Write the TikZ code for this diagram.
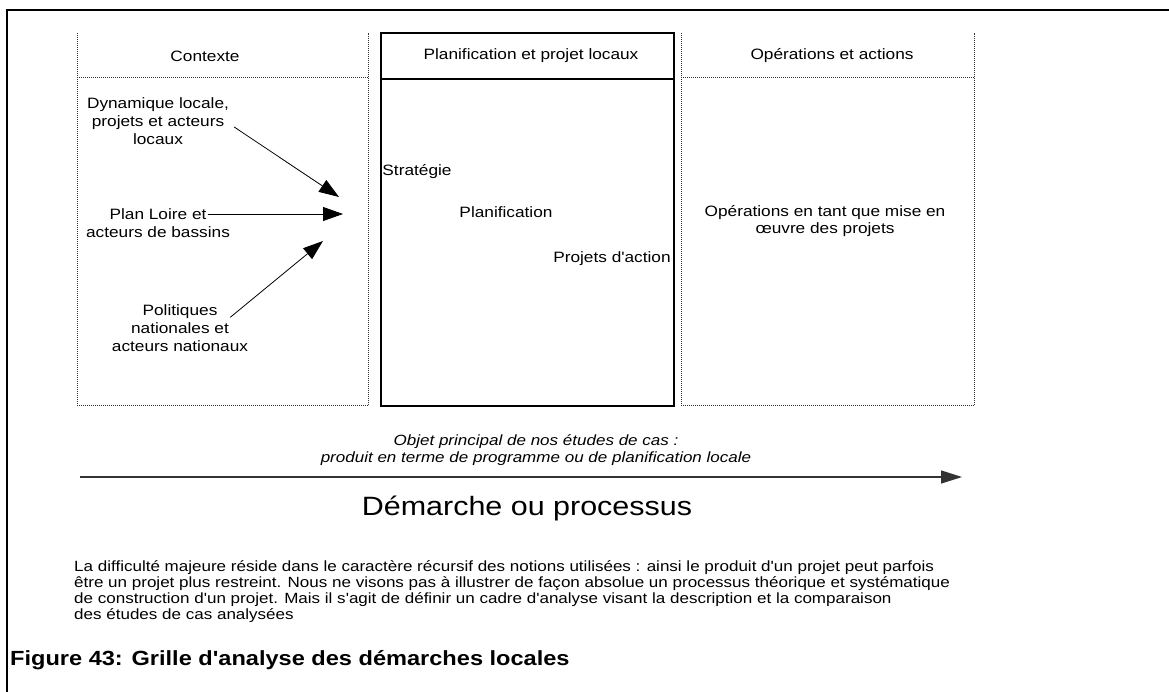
\documentclass[tikz,border=0pt]{standalone}
\usepackage{fontspec}
\setmainfont{Liberation Sans}[FakeStretch=1.15, Ligatures=TeXOff]
\usetikzlibrary{arrows.meta}

\begin{document}
\begin{tikzpicture}[x=1pt, y=-1pt,
  gridline/.style={draw=black!80, line width=0.9pt, dash pattern=on 1pt off 1pt},
  mainline/.style={draw=black, line width=2pt},
  headbox/.style={minimum height=44pt, inner sep=0pt, anchor=north west},
  bodybox/.style={minimum height=328pt, inner sep=0pt, anchor=north west},
  celltext/.style={inner sep=0pt, align=center, font=\fontsize{15}{18}\selectfont},
  feed/.style={-{Triangle[length=20pt, width=14pt]}, line width=0.8pt},
  flow/.style={-{Triangle[length=21pt, width=13pt]}, line width=1.4pt, draw=black!80}
]
\useasboundingbox (0,0) rectangle (1169,692);
\draw[line width=1.2pt] (1169,10) -- (7,10) -- (7,692);

\node[headbox, minimum width=291pt] (ctxhead) at (77,33) {};
\node[bodybox, minimum width=291pt] (ctxbody) at (77,77) {};
\node[headbox, mainline, minimum width=293pt, minimum height=46pt] (planhead) at (380,32) {};
\node[bodybox, mainline, minimum width=293pt, minimum height=327pt] (planbody) at (380,78) {};
\node[headbox, minimum width=293pt] (opshead) at (681,33) {};
\node[bodybox, minimum width=293pt] (opsbody) at (681,77) {};
\draw[gridline] (ctxhead.north west) -- (ctxbody.south west) -- (ctxbody.south east) -- (ctxhead.north east);
\draw[gridline] (ctxbody.north west) -- (ctxbody.north east);
\draw[gridline] (opshead.north west) -- (opsbody.south west) -- (opsbody.south east) -- (opshead.north east);
\draw[gridline] (opsbody.north west) -- (opsbody.north east);

\node[celltext] (ctxtitle) at (205,56) {Contexte};
\node[celltext] (plantitle) at (531,56) {Planification et projet locaux};
\node[celltext] (opstitle) at (832,56) {Opérations et actions};

\node[celltext] (dyn) at (158,121) {Dynamique locale,\\projets et acteurs\\locaux};
\node[celltext] (loire) at (158,214) {Plan Loire et};
\node[celltext] (bassins) at (158,232) {acteurs de bassins};
\node[celltext] (poli) at (180,328) {Politiques\\nationales et\\acteurs nationaux};

\node[celltext] (strat) at (417,172) {Stratégie};
\node[celltext] (planif) at (506,212) {Planification};
\node[celltext] (projets) at (612,259) {Projets d'action};
\node[celltext, font=\fontsize{15}{16.5}\selectfont] (opstext) at (825,221) {Opérations en tant que mise en\\œuvre des projets};

\coordinate (dynhead) at (339,197);
\coordinate (loirehead) at (343,214);
\coordinate (polihead) at (323,241);
\draw[feed] ([xshift=5pt, yshift=-6pt]dyn.east) -- (dynhead);
\draw[feed] ([xshift=1pt]loire.east) -- (loirehead);
\draw[feed] ([xshift=-18pt, yshift=-13pt]poli.north east) -- (polihead);

\node[inner sep=0pt, align=center, font=\itshape\fontsize{14.8}{17}\selectfont] (objet) at (536,450)
  {Objet principal de nos études de cas :\\produit en terme de programme ou de planification locale};

\coordinate (flowstart) at (80,477);
\coordinate (flowend) at (962,477);
\draw[flow] (flowstart) -- (flowend);

\node[inner sep=0pt, font=\fontsize{26.5}{30}\selectfont] (demarche) at (527,508) {Démarche ou processus};

\node[inner sep=0pt, anchor=north west, align=left, font=\fontsize{14.8}{16}\selectfont] (note) at (74,560)
  {La difficulté majeure réside dans le caractère récursif des notions utilisées : ainsi le produit d'un projet peut parfois\\
   être un projet plus restreint. Nous ne visons pas à illustrer de façon absolue un processus théorique et systématique\\
   de construction d'un projet. Mais il s'agit de définir un cadre d'analyse visant la description et la comparaison\\
   des études de cas analysées};

\node[inner sep=0pt, anchor=west, font=\bfseries\fontsize{20.5}{24}\selectfont] (caption) at (10,660)
  {Figure 43: Grille d'analyse des démarches locales};
\end{tikzpicture}
\end{document}
